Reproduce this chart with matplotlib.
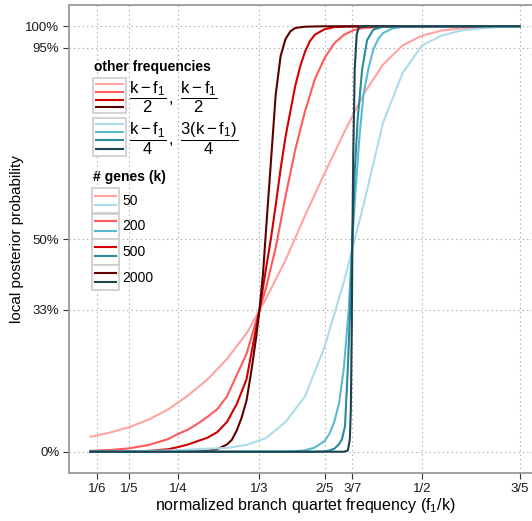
import matplotlib
matplotlib.use("Agg")
import matplotlib.pyplot as plt
from matplotlib.lines import Line2D
from matplotlib.patches import Rectangle

plt.rcParams['font.family'] = ['Liberation Sans', 'DejaVu Sans']
plt.rcParams['mathtext.fontset'] = 'custom'
plt.rcParams['mathtext.rm'] = 'Liberation Sans'
plt.rcParams['mathtext.it'] = 'Liberation Sans:italic'
plt.rcParams['mathtext.bf'] = 'Liberation Sans:bold'

# x = f1/k, y = local posterior probability
# other frequencies (k-f1)/2, (k-f1)/2
red_50_x = [0.16, 0.18, 0.20, 0.22, 0.24, 0.26, 0.28, 0.30, 0.32, 0.34, 0.36, 0.38,
            0.40, 0.42, 0.44, 0.46, 0.48, 0.50, 0.52, 0.54, 0.56, 0.58, 0.60]
red_50_y = [0.035, 0.045, 0.058, 0.076, 0.100, 0.132, 0.170, 0.218, 0.278, 0.36, 0.45, 0.555,
            0.654, 0.75, 0.84, 0.91, 0.955, 0.978, 0.99, 0.995, 0.998, 0.999, 1.0]

red_200_x = [0.16, 0.18, 0.20, 0.22, 0.24, 0.25, 0.26, 0.27, 0.28, 0.29, 0.30, 0.31, 0.32,
             0.3333, 0.34, 0.35, 0.36, 0.37, 0.38, 0.39, 0.40, 0.41, 0.42, 0.43, 0.44, 0.46,
             0.50, 0.60]
red_200_y = [0.002, 0.004, 0.008, 0.016, 0.030, 0.042, 0.052, 0.066, 0.082, 0.10, 0.13, 0.18,
             0.23, 0.333, 0.385, 0.48, 0.60, 0.71, 0.80, 0.875, 0.925, 0.96, 0.98, 0.991, 0.996,
             0.999, 1.0, 1.0]

red_500_x = [0.16, 0.20, 0.22, 0.24, 0.25, 0.26, 0.27, 0.28, 0.29, 0.30, 0.31, 0.32, 0.3333,
             0.34, 0.345, 0.35, 0.355, 0.36, 0.365, 0.37, 0.375, 0.38, 0.385, 0.39, 0.40, 0.41,
             0.42, 0.45, 0.60]
red_500_y = [0.0, 0.0005, 0.002, 0.006, 0.011, 0.017, 0.025, 0.033, 0.046, 0.07, 0.112, 0.17,
             0.333, 0.43, 0.5, 0.58, 0.665, 0.74, 0.80, 0.86, 0.905, 0.94, 0.965, 0.98, 0.993,
             0.998, 0.999, 1.0, 1.0]

red_2000_x = [0.16, 0.25, 0.27, 0.28, 0.29, 0.30, 0.305, 0.31, 0.315, 0.32, 0.325, 0.33,
              0.3333, 0.337, 0.34, 0.345, 0.35, 0.355, 0.36, 0.365, 0.37, 0.38, 0.40, 0.60]
red_2000_y = [0.0, 0.0, 0.0005, 0.002, 0.006, 0.017, 0.028, 0.05, 0.08, 0.12, 0.19, 0.27,
              0.333, 0.42, 0.52, 0.68, 0.84, 0.93, 0.97, 0.988, 0.996, 0.999, 1.0, 1.0]

# other frequencies (k-f1)/4, 3(k-f1)/4
blue_50_x = red_50_x
blue_50_y = [0.0, 0.0005, 0.001, 0.002, 0.003, 0.005, 0.007, 0.009, 0.016, 0.032, 0.07, 0.13,
             0.246, 0.40, 0.58, 0.773, 0.89, 0.955, 0.978, 0.99, 0.995, 0.998, 0.999]

blue_200_x = [0.16, 0.36, 0.37, 0.38, 0.39, 0.40, 0.405, 0.41, 0.415, 0.42, 0.425, 0.4286,
              0.432, 0.436, 0.44, 0.445, 0.45, 0.455, 0.46, 0.47, 0.48, 0.50, 0.60]
blue_200_y = [0.0, 0.0, 0.001, 0.003, 0.01, 0.025, 0.042, 0.07, 0.115, 0.2, 0.34, 0.5,
              0.62, 0.745, 0.84, 0.9, 0.945, 0.97, 0.984, 0.995, 0.999, 1.0, 1.0]

blue_500_x = [0.16, 0.39, 0.40, 0.405, 0.41, 0.415, 0.418, 0.421, 0.424, 0.4265, 0.4286,
              0.431, 0.434, 0.4385, 0.4436, 0.45, 0.46, 0.50, 0.60]
blue_500_y = [0.0, 0.0, 0.001, 0.003, 0.007, 0.018, 0.03, 0.06, 0.2, 0.35, 0.5,
              0.66, 0.78, 0.897, 0.967, 0.992, 0.999, 1.0, 1.0]

blue_2000_x = [0.16, 0.42, 0.424, 0.426, 0.427, 0.428, 0.4286, 0.4295, 0.431, 0.433, 0.435,
               0.44, 0.60]
blue_2000_y = [0.0, 0.0, 0.003, 0.03, 0.1, 0.3, 0.5, 0.7, 0.9, 0.98, 0.997, 1.0, 1.0]

genes = ['50', '200', '500', '2000']
red_cols = ['#ffa3a3', '#ff5a5a', '#d20000', '#5e0000']
blue_cols = ['#abdce8', '#5bbad3', '#2b8a9b', '#1e4350']

xticks = [1/6, 1/5, 1/4, 1/3, 2/5, 3/7, 1/2, 3/5]
xticklabels = ['1/6', '1/5', '1/4', '1/3', '2/5', '3/7', '1/2', '3/5']
yticks = [0, 1/3, 0.5, 0.95, 1.0]
yticklabels = ['0%', '33%', '50%', '95%', '100%']

W, H = 532, 521
fig = plt.figure(figsize=(W/100, H/100), dpi=100)
ax = fig.add_axes([69/W, (H-473)/H, (541-69)/W, (473-5)/H])

reds = [(red_50_x, red_50_y), (red_200_x, red_200_y), (red_500_x, red_500_y), (red_2000_x, red_2000_y)]
blues = [(blue_50_x, blue_50_y), (blue_200_x, blue_200_y), (blue_500_x, blue_500_y), (blue_2000_x, blue_2000_y)]
for (xs, ys), c in zip(reds, red_cols):
    ax.plot(xs, ys, color=c, lw=1.5, solid_joinstyle='round', zorder=3)
for (xs, ys), c in zip(blues, blue_cols):
    ax.plot(xs, ys, color=c, lw=1.5, solid_joinstyle='round', zorder=3)

ax.set_xlim(0.138, 0.622)
ax.set_ylim(-0.05, 1.05)
ax.set_xticks(xticks)
ax.set_xticklabels(xticklabels)
ax.set_yticks(yticks)
ax.set_yticklabels(yticklabels)
ax.tick_params(length=4, width=0.8, color='#333333', labelsize=9.5, labelcolor='#1a1a1a', pad=3)
ax.grid(True, color='#999999', lw=0.8, linestyle=(0, (1, 3)))
for s in ax.spines.values():
    s.set_color('#9a9a9a')
    s.set_linewidth(1.3)
ax.set_xlabel(r'normalized branch quartet frequency $(\mathrm{f}_1/\mathrm{k})$', fontsize=11.5, labelpad=1)
ax.set_ylabel('local posterior probability', fontsize=11, labelpad=1)


# legend, drawn in figure pixels (y measured from the top)
def fx(px):
    return px / W


def fy(py):
    return 1 - py / H


def box(x0, y0, x1, y1):
    fig.add_artist(Rectangle((fx(x0), fy(y1)), fx(x1) - fx(x0), fy(y0) - fy(y1),
                             transform=fig.transFigure, facecolor='white',
                             edgecolor='#cccccc', lw=1.2, zorder=5))


def key(x0, x1, py, c):
    fig.add_artist(Line2D([fx(x0), fx(x1)], [fy(py), fy(py)], transform=fig.transFigure,
                          color=c, lw=1.5, zorder=6))


fig.text(fx(94), fy(67), 'other frequencies', fontsize=10, fontweight='bold', va='center', ha='left')
box(93, 78, 126, 113)
for py, c in zip([84, 92, 100, 107], red_cols):
    key(96, 123, py, c)
fig.text(fx(129), fy(97), r'$\dfrac{\mathrm{k - f_1}}{2}\,,\ \dfrac{\mathrm{k - f_1}}{2}$',
         fontsize=12, va='center', ha='left')
box(93, 118, 126, 156)
for py, c in zip([124, 132, 140, 149], blue_cols):
    key(96, 123, py, c)
fig.text(fx(129), fy(139), r'$\dfrac{\mathrm{k - f_1}}{4}\,,\ \dfrac{\mathrm{3(k - f_1)}}{4}$',
         fontsize=12, va='center', ha='left')

fig.text(fx(93), fy(177), '# genes (k)', fontsize=10, fontweight='bold', va='center', ha='left')
for i, g in enumerate(genes):
    top = 188 + i * 25.5
    box(92, top, 119, top + 25.5)
    key(95, 116, top + 8, red_cols[i])
    key(95, 116, top + 17, blue_cols[i])
    fig.text(fx(122), fy(top + 13), g, fontsize=10, va='center', ha='left')

fig.savefig('out.png', dpi=100)
